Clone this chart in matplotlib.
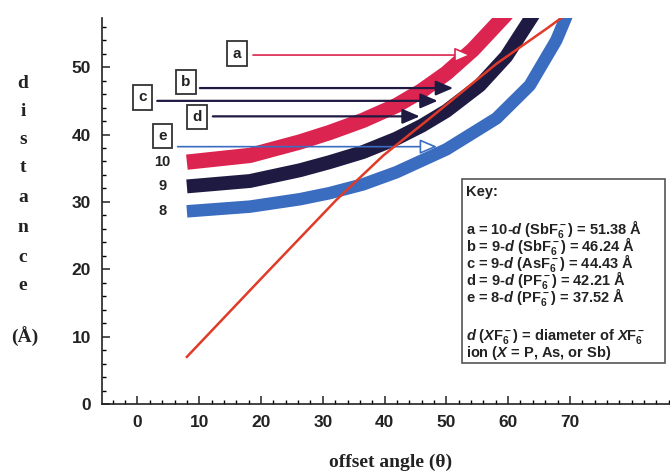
import matplotlib
matplotlib.use("Agg")
import matplotlib.pyplot as plt
from matplotlib.patches import Rectangle, FancyArrowPatch
from matplotlib.ticker import MultipleLocator, FixedLocator

# band curves (n = 10, 9, 8)
band_names = ["10", "9", "8"]
red_x = [8.0, 18.2, 26.3, 31.1, 36.5, 41.9, 46.0, 50.0, 54.3, 59.5, 61.5]
red_y = [35.9, 36.9, 38.9, 40.3, 42.1, 44.3, 46.5, 49.1, 52.6, 57.7, 59.9]
black_x = [8.0, 18.2, 26.3, 31.1, 36.5, 41.9, 46.0, 50.0, 55.4, 59.7, 64.0, 65.4]
black_y = [32.3, 33.1, 34.7, 35.9, 37.4, 39.4, 41.3, 43.5, 47.3, 51.6, 57.7, 59.9]
blue_x = [8.0, 18.2, 26.3, 31.1, 36.5, 41.9, 50.0, 58.1, 63.5, 67.8, 69.5, 70.4]
blue_y = [28.6, 29.3, 30.4, 31.3, 32.6, 34.4, 37.8, 42.4, 47.3, 54.0, 57.7, 60.0]

# the single red line
line_x = [8.0, 20.0, 32.2, 39.8, 47.3, 58.1, 66.2, 68.9]
line_y = [7.0, 18.6, 30.3, 36.9, 42.4, 50.5, 55.7, 57.5]

# labelled arrows a..e
arrow_names = ["a", "b", "c", "d", "e"]
arrow_y = [51.8, 46.9, 45.0, 42.7, 38.2]
arrow_start = [18.7, 10.1, 3.2, 12.2, 6.5]
arrow_tip = [54.1, 51.1, 48.6, 45.7, 48.5]
box_x = [16.1, 7.8, 0.8, 9.6, 4.0]
box_y = [52.0, 47.8, 45.5, 42.6, 39.8]

key_lines = [
    r"a = 10-$\mathit{d}$ (SbF$_6^-$) = 51.38 Å",
    r"b = 9-$\mathit{d}$ (SbF$_6^-$) = 46.24 Å",
    r"c = 9-$\mathit{d}$ (AsF$_6^-$) = 44.43 Å",
    r"d = 9-$\mathit{d}$ (PF$_6^-$) = 42.21 Å",
    r"e = 8-$\mathit{d}$ (PF$_6^-$) = 37.52 Å",
]
key_note = [
    r"$\mathit{d}$ ($\mathit{X}$F$_6^-$) = diameter of $\mathit{X}$F$_6^-$",
    r"ion ($\mathit{X}$ = P, As, or Sb)",
]

RED = "#dc2450"
NAVY = "#1f1a42"
BLUE = "#3a6cc0"
LINE_RED = "#e03a28"

plt.rcParams["font.family"] = ["Liberation Sans", "DejaVu Sans"]
plt.rcParams["mathtext.fontset"] = "custom"
plt.rcParams["mathtext.rm"] = "Liberation Sans:bold"
plt.rcParams["mathtext.it"] = "Liberation Sans:italic:bold"
plt.rcParams["mathtext.bf"] = "Liberation Sans:bold"

fig = plt.figure(figsize=(6.7, 4.75), dpi=100)
ax = fig.add_axes([102 / 670, 1 - 404 / 475, 568 / 670, 386 / 475])

ax.set_xlim(-5.74, 86.2)
ax.set_ylim(0, 57.3)
for side in ("top", "right"):
    ax.spines[side].set_visible(False)
for side in ("left", "bottom"):
    ax.spines[side].set_linewidth(1.2)
    ax.spines[side].set_color("#222222")

# major x ticks only up to 70, minor ones run on to the edge
ax.xaxis.set_major_locator(FixedLocator([0, 10, 20, 30, 40, 50, 60, 70]))
ax.xaxis.set_minor_locator(MultipleLocator(2))
ax.yaxis.set_major_locator(MultipleLocator(10))
ax.yaxis.set_minor_locator(MultipleLocator(2))
ax.tick_params(which="major", direction="in", length=6, width=1.1, pad=8,
               labelsize=12.5, colors="#222222")
ax.tick_params(which="minor", direction="in", length=3, width=1.0)
for lab in ax.get_xticklabels() + ax.get_yticklabels():
    lab.set_fontweight("bold")

# bands
for xs, ys, col, lw in [(red_x, red_y, RED, 11),
                        (black_x, black_y, NAVY, 10),
                        (blue_x, blue_y, BLUE, 9)]:
    ax.plot(xs, ys, color=col, lw=lw, solid_capstyle="butt",
            solid_joinstyle="round", zorder=2)

for name, xs, ys in zip(band_names, [red_x, black_x, blue_x], [red_y, black_y, blue_y]):
    ax.text(4.0, ys[0], name, ha="center", va="center", fontsize=10.5,
            fontweight="bold", color="#222222")

# arrows
arrow_cols = [RED, NAVY, NAVY, NAVY, BLUE]
open_head = [True, False, False, False, True]
for i in range(len(arrow_names)):
    col = arrow_cols[i]
    arr = FancyArrowPatch((arrow_start[i], arrow_y[i]), (arrow_tip[i], arrow_y[i]),
                          arrowstyle="-|>,head_length=0.7,head_width=0.3",
                          mutation_scale=15,
                          lw=1.2 if open_head[i] else 1.6,
                          edgecolor=col,
                          facecolor="white" if open_head[i] else col,
                          shrinkA=0, shrinkB=0, zorder=4)
    ax.add_patch(arr)
    ax.text(box_x[i], box_y[i], arrow_names[i], ha="center", va="center",
            fontsize=11, fontweight="bold", color="#222222", zorder=5,
            bbox=dict(boxstyle="square,pad=0.35", fc="white", ec="#333333", lw=1.3))

ax.plot(line_x, line_y, color=LINE_RED, lw=1.8, zorder=6)

# key box
fig.add_artist(Rectangle((462 / 670, 1 - 363 / 475), 203 / 670, 184 / 475,
                         transform=fig.transFigure, fc="white", ec="#555555",
                         lw=1.2, zorder=10))
fig.text(466 / 670, 1 - 192 / 475, "Key:", fontsize=10.5, fontweight="bold",
         va="center", color="#222222", zorder=11)
fig.text(466 / 670, 1 - 218 / 475, "\n".join(key_lines), fontsize=10.5,
         fontweight="bold", va="top", linespacing=0.69, color="#222222", zorder=11)
fig.text(466 / 670, 1 - 327 / 475, "\n".join(key_note), fontsize=10.5,
         fontweight="bold", va="top", linespacing=0.82, color="#222222", zorder=11)

# axis labels
serif = ["Liberation Serif", "DejaVu Serif"]
for ch, yy in zip("distance", [83, 112, 140, 168, 198, 227, 257, 285]):
    fig.text(23 / 670, 1 - yy / 475, ch, family=serif, fontsize=14,
             fontweight="bold", ha="center", va="center", color="#222222")
fig.text(25 / 670, 1 - 337 / 475, "(Å)", family=serif, fontsize=14,
         fontweight="bold", ha="center", va="center", color="#222222")
fig.text(391 / 670, 1 - 462 / 475, "offset angle (θ)", family=serif, fontsize=14,
         fontweight="bold", ha="center", va="center", color="#222222")

fig.savefig("out.png", dpi=100)
